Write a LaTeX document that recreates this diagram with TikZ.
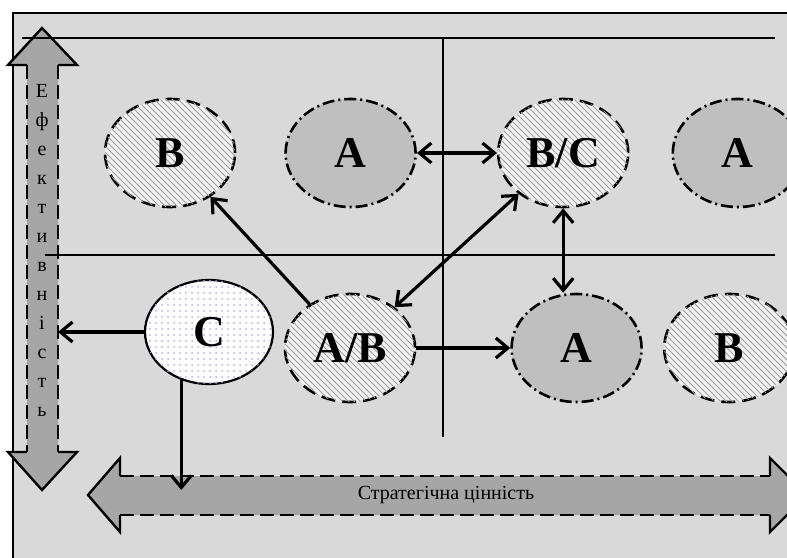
\documentclass[tikz,border=0pt]{standalone}
\usepackage{fontspec}
\setmainfont{Liberation Serif}
\usepackage{tikz}
\usetikzlibrary{positioning,shapes.geometric,arrows.meta,patterns}
\tikzstyle{hb}=[%
      ellipse, draw=black, line width=1.3pt, dash pattern=on 7pt off 3.5pt,
      fill=gray!10, postaction={pattern=north west lines, pattern color=gray!75},
      minimum width=65pt, minimum height=54pt, inner sep=0pt,
      font=\bfseries\fontsize{22}{26}\selectfont
]
\tikzstyle{ga}=[%
      ellipse, draw=black, line width=1.3pt, dash pattern=on 6pt off 2pt on 1pt off 2pt,
      fill=gray!50, minimum width=65pt, minimum height=54pt, inner sep=0pt,
      font=\bfseries\fontsize{22}{26}\selectfont
]
\tikzstyle{wh}=[%
      ellipse, draw=black, line width=1.1pt, fill=white,
      postaction={pattern=dots, pattern color=blue!30},
      minimum width=64pt, minimum height=52pt, inner sep=0pt,
      font=\bfseries\fontsize{22}{26}\selectfont
]
\tikzstyle{lb}=[%
      rectangle, draw=none, align=center, inner sep=0pt
]
\tikzstyle{ln}=[line width=1pt, black]
\tikzstyle{sf}=[fill=gray!70, draw=none]
\tikzstyle{sd}=[line width=1.2pt, dash pattern=on 7pt off 3pt]
\tikzstyle{sh}=[line width=1.2pt, line join=miter]

\begin{document}
\begin{tikzpicture}[x=0.5pt, y=-0.5pt,
    >={Straight Barb[length=6pt,width=10pt]},
    ar/.style={line width=1.6pt},
]
    \useasboundingbox (0,0) rectangle (787,557);
    \clip (0,0) rectangle (787,557);
    % background frame
    \draw[ln, fill=gray!30] (13,13) rectangle (810,580);
    % vertical block arrow
    \fill[sf] (42,28) -- (77,65) -- (58,65) -- (58,452) -- (77,452) -- (42,490)
          -- (8,452) -- (27,452) -- (27,65) -- (8,65) -- cycle;
    \draw[sd] (27,65) -- (27,452) (58,65) -- (58,452);
    \draw[sh] (27,65) -- (8,65) -- (42,28) -- (77,65) -- (58,65);
    \draw[sh] (27,452) -- (8,452) -- (42,490) -- (77,452) -- (58,452);
    % horizontal block arrow
    \fill[sf] (88,495) -- (120,458) -- (120,476) -- (770,476) -- (770,458) -- (807,495)
          -- (770,532) -- (770,515) -- (120,515) -- (120,532) -- cycle;
    \draw[sd] (120,476) -- (770,476) (120,515) -- (770,515);
    \draw[sh] (120,476) -- (120,458) -- (88,495) -- (120,532) -- (120,515);
    \draw[sh] (770,476) -- (770,458) -- (807,495) -- (770,532) -- (770,515);
    \coordinate (vr) at (58,0);
    \coordinate (hm) at (0,490);
    \node[lb, font=\fontsize{10}{14.5}\selectfont] (eff) at (42,250)
        {Е\\ф\\е\\к\\т\\и\\в\\н\\і\\с\\т\\ь};
    \node[lb, font=\fontsize{10}{12}\selectfont] (str) at (446,495) {Стратегічна цінність};
    % grid
    \draw[ln] (22,38) -- (775,38);
    \draw[ln] (45,255) -- (775,255);
    \draw[ln] (443,38) -- (443,437);
    % top row
    \node[hb]  (B1) at (170,153)       {B};
    \node[ga]  (A1) [right = 24pt of B1] {A};
    \node[hb]  (BC) [right = 40pt of A1] {B/C};
    \node[ga]  (A2) [right = 21pt of BC] {A};
    % bottom row
    \node[wh]  (C)  at (209,332)       {C};
    \node[hb]  (AB) at (350,348)       {A/B};
    \node[ga]  (A3) [right = 47pt of AB] {A};
    \node[hb]  (B2) [right = 10pt of A3] {B};
    % connectors
    \draw[ar, <->] (A1) -- (BC);
    \draw[ar, ->]  (AB) -- (B1);
    \draw[ar, <->] (AB) -- (BC);
    \draw[ar, <->] (BC.south) -- (BC.south |- A3.north);
    \draw[ar, ->]  (AB) -- (A3);
    \draw[ar, ->]  (C.west) -- (C.west -| vr);
    \draw[ar, ->]  (C.240) -- (C.240 |- hm);
\end{tikzpicture}
\end{document}
